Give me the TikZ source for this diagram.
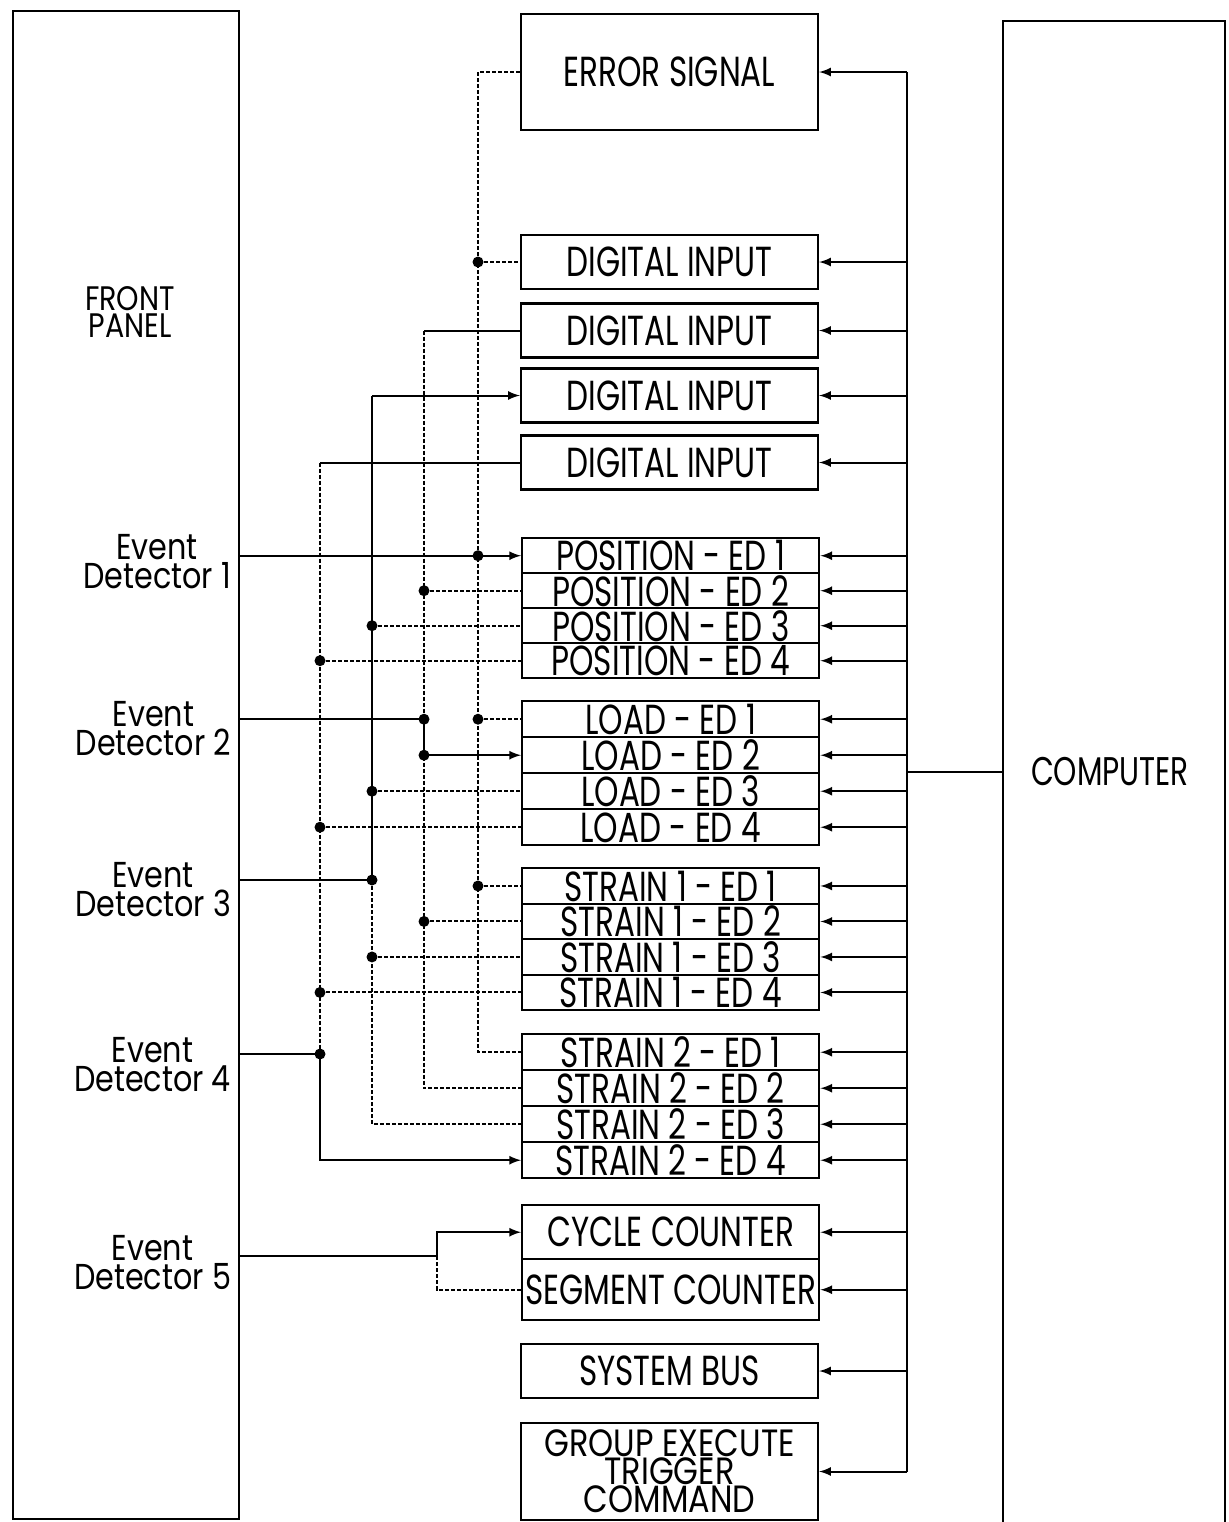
\documentclass[tikz,border=0pt]{standalone}
\usepackage{fontspec}
\setmainfont{Poppins}[FakeStretch=0.74]
\newfontfamily\widefont{Poppins}[FakeStretch=0.84]
\usepackage{tikz}
\usetikzlibrary{arrows}

\newcommand\blockfont{\fontsize{21}{14}\selectfont}
\newcommand\tightfont[2]{\widefont\fontsize{#1}{#2}\selectfont\lineskiplimit=-100pt}

\tikzset{
  modbox/.style={draw, line width=1.2pt, minimum width=148.5pt, inner sep=0pt,
    font=\blockfont, align=center},
  sig/.style={dash pattern=on 2pt off 1pt},
  arr/.style={-latex},
  edlabel/.style={anchor=east, align=center, font=\tightfont{18}{14.5}, inner sep=0pt}
}

\begin{document}
\begin{tikzpicture}[x=0.5pt, y=-0.5pt, line width=1pt]
\useasboundingbox (0,0) rectangle (1228,1522);

% front panel and computer
\node[draw, line width=1.2pt, minimum width=113pt, minimum height=754pt,
  anchor=north west] (fp) at (12,10) {};
\node[align=center, font=\tightfont{17}{13.5}] (fptxt) at (130,312) {FRONT\\PANEL};
\node[draw, line width=1.2pt, minimum width=111pt, minimum height=765pt,
  anchor=north west] (comp) at (1002,20) {};
\node[font=\fontsize{20}{14}\selectfont] (comptxt) at (1110,772) {COMPUTER};

% blocks
\node[modbox, minimum height=58pt] (err) at (669.5,72) {ERROR SIGNAL};
\node[modbox, minimum height=27pt] (di1) at (669.5,262) {DIGITAL INPUT};
\node[modbox, minimum height=27pt] (di2) at (669.5,330.5) {DIGITAL INPUT};
\node[modbox, minimum height=27pt] (di3) at (669.5,395.5) {DIGITAL INPUT};
\node[modbox, minimum height=27pt] (di4) at (669.5,462.5) {DIGITAL INPUT};

\foreach \i in {1,...,4} {
  \node[modbox, minimum height=17.5pt, anchor=north west] (pos\i) at (521,537+35*\i-35) {POSITION - ED \i};
  \node[modbox, minimum height=18pt, anchor=north west] (load\i) at (521,700+36*\i-36) {LOAD - ED \i};
  \node[modbox, minimum height=17.75pt, anchor=north west] (sa\i) at (521,867+35.5*\i-35.5) {STRAIN 1 - ED \i};
  \node[modbox, minimum height=18pt, anchor=north west] (sb\i) at (521,1033+36*\i-36) {STRAIN 2 - ED \i};
}

\node[modbox, minimum height=27pt, anchor=north west] (cyc) at (521,1204) {CYCLE COUNTER};
\node[modbox, minimum height=30.5pt, anchor=north west] (seg) at (521,1258) {SEGMENT COUNTER};
\node[modbox, minimum height=27pt] (bus) at (669.5,1371) {SYSTEM BUS};
\node[modbox, minimum height=48.5pt, font=\tightfont{19}{14}] (get) at (669.5,1471.5) {GROUP EXECUTE\\TRIGGER\\COMMAND};

% event detectors
\node[edlabel] (ed1) at (232,562) {Event\\Detector 1};
\node[edlabel] (ed2) at (232,729) {Event\\Detector 2};
\node[edlabel] (ed3) at (232,890) {Event\\Detector 3};
\node[edlabel] (ed4) at (232,1065) {Event\\Detector 4};
\node[edlabel] (ed5) at (232,1263) {Event\\Detector 5};

\coordinate (b1) at (478,0);
\coordinate (b2) at (424,0);
\coordinate (b3) at (372,0);
\coordinate (b4) at (320,0);
\coordinate (e3) at (372,880);
\coordinate (e4) at (320,1054);
\coordinate (e5) at (437,1256);
\coordinate (rb) at (907,74);

% computer side
\draw (err.east -| rb) -- (get.east -| rb);
\draw (rb |- comptxt) -- (comp.west |- comptxt);
\foreach \n in {err,di1,di2,di3,di4,pos1,pos2,pos3,pos4,load1,load2,load3,load4,
  sa1,sa2,sa3,sa4,sb1,sb2,sb3,sb4,cyc,seg,bus,get}
  \draw[arr] (\n.east -| rb) -- (\n.east);

% bus 1
\draw[sig] (err.west) -| (sb1.west -| b1) -- (sb1.west);
\foreach \n in {di1,load1,sa1}
  \draw[sig] (\n.west -| b1) -- (\n.west);
\draw[arr] (pos1.west -| fp.east) -- (pos1.west);

% bus 2
\draw (di2.west) -- (di2.west -| b2);
\draw[sig] (di2.west -| b2) -- (sb2.west -| b2) -- (sb2.west);
\foreach \n in {pos2,sa2}
  \draw[sig] (\n.west -| b2) -- (\n.west);
\draw (load1.west -| fp.east) -- (load1.west -| b2) -- (load2.west -| b2);
\draw[arr] (load2.west -| b2) -- (load2.west);

% bus 3
\draw[arr] (di3.west -| b3) -- (di3.west);
\draw (di3.west -| b3) -- (e3);
\draw[sig] (e3) -- (sb3.west -| b3) -- (sb3.west);
\foreach \n in {pos3,load3,sa3}
  \draw[sig] (\n.west -| b3) -- (\n.west);
\draw (fp.east |- e3) -- (e3);

% bus 4
\draw (di4.west) -- (di4.west -| b4);
\draw[sig] (di4.west -| b4) -- (e4);
\draw[arr] (e4) |- (sb4.west);
\foreach \n in {pos4,load4,sa4}
  \draw[sig] (\n.west -| b4) -- (\n.west);
\draw (fp.east |- e4) -- (e4);

% counters
\draw (fp.east |- e5) -- (e5);
\draw[arr] (e5) |- (cyc.west);
\draw[sig] (e5) |- (seg.west);

% junctions
\foreach \n in {di1,pos1,load1,sa1}
  \fill (\n.west -| b1) circle (5.5);
\foreach \n in {pos2,load1,load2,sa2}
  \fill (\n.west -| b2) circle (5.5);
\foreach \n in {pos3,load3,sa3}
  \fill (\n.west -| b3) circle (5.5);
\foreach \n in {pos4,load4,sa4}
  \fill (\n.west -| b4) circle (5.5);
\fill (e3) circle (5.5)
  (e4) circle (5.5);
\end{tikzpicture}
\end{document}
